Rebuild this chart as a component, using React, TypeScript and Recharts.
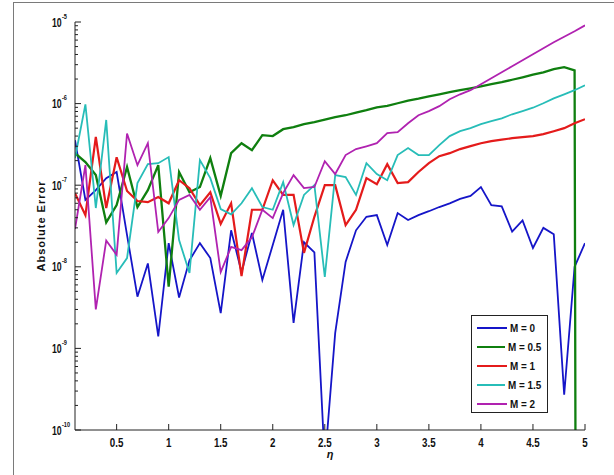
import { LineChart, Line, XAxis, YAxis, Legend } from 'recharts';

// eta grid
const eta = [
  0.1, 0.2, 0.3, 0.4, 0.5, 0.6, 0.7, 0.8, 0.9, 1.0,
  1.1, 1.2, 1.3, 1.4, 1.5, 1.6, 1.7, 1.8, 1.9, 2.0,
  2.1, 2.2, 2.3, 2.4, 2.5, 2.6, 2.7, 2.8, 2.9, 3.0,
  3.1, 3.2, 3.3, 3.4, 3.5, 3.6, 3.7, 3.8, 3.9, 4.0,
  4.1, 4.2, 4.3, 4.4, 4.5, 4.6, 4.7, 4.8, 4.9, 5.0,
];

const errM0 = [
  3.56e-7, 6.6e-8, 8.7e-8, 1.22e-7, 1.45e-7, 2.45e-8, 4.3e-9, 1.1e-8, 1.4e-9, 1.95e-8,
  4.2e-9, 1.2e-8, 1.95e-8, 1.28e-8, 2.7e-9, 2.8e-8, 8.6e-9, 2.6e-8, 6.9e-9, 1.85e-8,
  5.0e-8, 2.05e-9, 2.0e-8, 1.5e-8, 4e-11, 1.55e-9, 1.15e-8, 2.8e-8, 4.1e-8, 4.3e-8,
  1.85e-8, 4.55e-8, 3.75e-8, 4.3e-8, 4.8e-8, 5.4e-8, 6.0e-8, 6.8e-8, 7.4e-8, 9.5e-8,
  5.7e-8, 5.5e-8, 2.7e-8, 3.7e-8, 1.7e-8, 3.0e-8, 2.5e-8, 2.7e-10, 1.0e-8, 1.95e-8,
];

const errM05 = [
  2.47e-7, 1.92e-7, 1.33e-7, 3.5e-8, 5.7e-8, 1.67e-7, 5.4e-8, 8.7e-8, 1.76e-7, 5.7e-9,
  1.45e-7, 8.2e-8, 9.5e-8, 2.15e-7, 7.4e-8, 2.47e-7, 3.27e-7, 2.69e-7, 4.1e-7, 4.0e-7,
  4.86e-7, 5.14e-7, 5.6e-7, 5.92e-7, 6.35e-7, 6.82e-7, 7.2e-7, 7.74e-7, 8.3e-7, 9.0e-7,
  9.4e-7, 1.01e-6, 1.085e-6, 1.15e-6, 1.23e-6, 1.3e-6, 1.38e-6, 1.46e-6, 1.54e-6, 1.63e-6,
  1.73e-6, 1.83e-6, 1.96e-6, 2.1e-6, 2.26e-6, 2.42e-6, 2.64e-6, 2.79e-6, 2.56e-6, 1e-60,
];

const errM1 = [
  8.0e-8, 4.3e-8, 3.9e-7, 5.25e-8, 2.2e-7, 8.5e-8, 6.4e-8, 6.2e-8, 7.15e-8, 6.0e-8,
  1.15e-7, 9.2e-8, 5.7e-8, 8.2e-8, 3.35e-8, 6.0e-8, 7.7e-9, 5.0e-8, 5.0e-8, 1.15e-7,
  7.6e-8, 7.6e-8, 1.48e-8, 4.1e-8, 1.0e-7, 1.0e-7, 3.25e-8, 5.0e-8, 1.22e-7, 1.03e-7,
  1.81e-7, 1.06e-7, 1.09e-7, 1.45e-7, 1.86e-7, 2.27e-7, 2.47e-7, 2.77e-7, 3.01e-7, 3.27e-7,
  3.47e-7, 3.61e-7, 3.77e-7, 3.88e-7, 3.99e-7, 4.22e-7, 4.59e-7, 5.0e-7, 5.75e-7, 6.44e-7,
];

const errM15 = [
  2.15e-7, 9.8e-7, 5.25e-8, 6.3e-7, 8.4e-9, 1.28e-8, 1.06e-7, 1.81e-7, 1.86e-7, 2.21e-7,
  2.13e-8, 8.4e-9, 2.03e-7, 1.22e-7, 5.1e-8, 4.4e-8, 6.0e-8, 9.2e-8, 5.4e-8, 5.0e-8,
  1.09e-7, 3.25e-8, 7.6e-8, 1.0e-7, 7.5e-9, 1.33e-7, 1.26e-7, 7.6e-8, 1.86e-7, 1.37e-7,
  1.15e-7, 2.34e-7, 2.85e-7, 2.34e-7, 2.34e-7, 3.1e-7, 4.0e-7, 4.6e-7, 5.0e-7, 5.6e-7,
  6.1e-7, 6.6e-7, 7.4e-7, 8.1e-7, 8.9e-7, 1.01e-6, 1.16e-6, 1.3e-6, 1.46e-6, 1.68e-6,
];

const errM2 = [
  2.9e-8, 1.76e-7, 3.0e-9, 2.1e-8, 1.4e-8, 4.3e-7, 1.76e-7, 3.27e-7, 2.67e-8, 3.95e-8,
  6.6e-8, 7.6e-8, 5.0e-8, 7.15e-8, 8.6e-9, 1.75e-8, 1.6e-8, 2.3e-8, 5.0e-8, 3.95e-8,
  8.0e-8, 1.33e-7, 9.2e-8, 9.5e-8, 1.97e-7, 1.37e-7, 2.34e-7, 2.77e-7, 3.0e-7, 3.27e-7,
  4.34e-7, 4.47e-7, 5.75e-7, 7.2e-7, 8.1e-7, 9.3e-7, 1.13e-6, 1.3e-6, 1.46e-6, 1.73e-6,
  2.05e-6, 2.42e-6, 2.87e-6, 3.4e-6, 4.03e-6, 4.77e-6, 5.64e-6, 6.6e-6, 7.7e-6, 9.1e-6,
];

const xTicks = [0.5, 1, 1.5, 2, 2.5, 3, 3.5, 4, 4.5, 5];
const decades = [1e-10, 1e-9, 1e-8, 1e-7, 1e-6, 1e-5];
const decadeExp = ['-10', '-9', '-8', '-7', '-6', '-5'];
const minorMult = [2, 3, 4, 5, 6, 7, 8, 9];
const minorTicks = decades.slice(0, -1).flatMap((d) => minorMult.map((m) => m * d));
const yTicks = [...decades, ...minorTicks];

const series = [
  { key: 'm0', name: 'M = 0', color: '#1515c8', width: 1.8, values: errM0 },
  { key: 'm05', name: 'M = 0.5', color: '#0f7f0f', width: 2.3, values: errM05 },
  { key: 'm1', name: 'M = 1', color: '#e41b1b', width: 2.2, values: errM1 },
  { key: 'm15', name: 'M = 1.5', color: '#27bdb8', width: 1.8, values: errM15 },
  { key: 'm2', name: 'M = 2', color: '#b022b0', width: 1.8, values: errM2 },
];

const data = eta.map((x, i) => {
  const row: Record<string, number> = { x };
  series.forEach((s) => {
    row[s.key] = s.values[i];
  });
  return row;
});

const AXIS = '#222';
const FONT = '"Liberation Sans", Arial, sans-serif';

const decadeIndex = (v: number) => decades.findIndex((d) => Math.abs(v / d - 1) < 1e-6);

function BottomTick({ x, y, payload }: any) {
  return (
    <g>
      <line x1={x} x2={x} y1={y} y2={y - 6} stroke={AXIS} />
      <text
        transform={`translate(${x},${y + 17}) scale(0.75,1)`}
        textAnchor="middle"
        fontSize={13}
        fontWeight="bold"
        fontFamily={FONT}
        fill="#111"
      >
        {payload.value}
      </text>
    </g>
  );
}

function TopTick({ x, y }: any) {
  return <line x1={x} x2={x} y1={y} y2={y + 6} stroke={AXIS} />;
}

function LeftTick({ x, y, payload }: any) {
  const k = decadeIndex(payload.value);
  if (k < 0) return <line x1={x} x2={x + 3} y1={y} y2={y} stroke={AXIS} />;
  return (
    <g>
      <line x1={x} x2={x + 6} y1={y} y2={y} stroke={AXIS} />
      <text
        transform={`translate(${x - 23},${y + 4.5}) scale(0.7,1)`}
        fontSize={12.5}
        fontWeight="bold"
        fontFamily={FONT}
        fill="#111"
      >
        10
      </text>
      <text
        transform={`translate(${x - 13},${y - 3.5}) scale(0.8,1)`}
        fontSize={7}
        fontWeight="bold"
        fontFamily={FONT}
        fill="#111"
      >
        {decadeExp[k]}
      </text>
    </g>
  );
}

function RightTick({ x, y, payload }: any) {
  const len = decadeIndex(payload.value) < 0 ? 3 : 6;
  return <line x1={x} x2={x - len} y1={y} y2={y} stroke={AXIS} />;
}

function YLabel({ viewBox }: any) {
  return (
    <text
      transform={`translate(${viewBox.x + 45},${viewBox.y + viewBox.height / 2}) rotate(-90)`}
      textAnchor="middle"
      fontSize={11}
      fontWeight="bold"
      letterSpacing={1}
      fontFamily={FONT}
      fill="#111"
    >
      Absolute Error
    </text>
  );
}

function EtaLabel({ viewBox }: any) {
  return (
    <text
      x={viewBox.x + viewBox.width / 2}
      y={viewBox.y + 28}
      textAnchor="middle"
      fontSize={11}
      fontStyle="italic"
      fontWeight="bold"
      fontFamily={FONT}
      fill="#111"
    >
      η
    </text>
  );
}

function LegendBox() {
  return (
    <div
      style={{
        width: 77,
        height: 98,
        boxSizing: 'border-box',
        border: '1px solid #222',
        background: '#fff',
        paddingTop: 2,
        fontFamily: FONT,
      }}
    >
      {series.map((s) => (
        <div key={s.key} style={{ height: 19, display: 'flex', alignItems: 'center' }}>
          <svg width={30} height={4} style={{ marginLeft: 5 }}>
            <line x1={0} x2={30} y1={2} y2={2} stroke={s.color} strokeWidth={2} />
          </svg>
          <span
            style={{
              marginLeft: 3,
              fontSize: 11.5,
              fontWeight: 'bold',
              color: '#111',
              display: 'inline-block',
              transform: 'scaleX(0.86)',
              transformOrigin: 'left center',
              whiteSpace: 'nowrap',
            }}
          >
            {s.name}
          </span>
        </div>
      ))}
    </div>
  );
}

export default function App() {
  return (
    <div
      style={{
        position: 'absolute',
        left: 0,
        top: 0,
        width: 614,
        height: 475,
        background: '#fff',
        overflow: 'hidden',
      }}
    >
      <div
        style={{
          position: 'absolute',
          left: 13,
          top: 2,
          width: 700,
          height: 600,
          borderLeft: '1px solid #7a7a7a',
          borderTop: '1px solid #7a7a7a',
        }}
      />
      <div style={{ position: 'absolute', left: 0, top: 0 }}>
        <LineChart width={614} height={475} data={data} margin={{ top: 22, right: 29, bottom: 15, left: 0 }}>
          <XAxis
            xAxisId="bottom"
            dataKey="x"
            type="number"
            domain={[0.1, 5]}
            allowDataOverflow
            ticks={xTicks}
            interval={0}
            tickSize={0}
            tickMargin={0}
            tickLine={false}
            tick={BottomTick}
            height={30}
            axisLine={{ stroke: AXIS }}
            label={EtaLabel}
          />
          <XAxis
            xAxisId="top"
            orientation="top"
            dataKey="x"
            type="number"
            domain={[0.1, 5]}
            allowDataOverflow
            ticks={xTicks}
            interval={0}
            tickSize={0}
            tickMargin={0}
            tickLine={false}
            tick={TopTick}
            height={0}
            axisLine={{ stroke: AXIS }}
          />
          <YAxis
            yAxisId="left"
            type="number"
            scale="log"
            domain={[1e-10, 1e-5]}
            allowDataOverflow
            ticks={yTicks}
            interval={0}
            tickSize={0}
            tickMargin={0}
            tickLine={false}
            tick={LeftTick}
            width={75}
            axisLine={{ stroke: AXIS }}
            label={YLabel}
          />
          <YAxis
            yAxisId="right"
            orientation="right"
            type="number"
            scale="log"
            domain={[1e-10, 1e-5]}
            allowDataOverflow
            ticks={yTicks}
            interval={0}
            tickSize={0}
            tickMargin={0}
            tickLine={false}
            tick={RightTick}
            width={0}
            axisLine={{ stroke: AXIS }}
          />
          <Legend
            layout="vertical"
            align="center"
            verticalAlign="middle"
            content={LegendBox}
            wrapperStyle={{ left: 471, top: 315, width: 77, height: 98 }}
          />
          {series.map((s) => (
            <Line
              key={s.key}
              xAxisId="bottom"
              yAxisId="left"
              type="linear"
              dataKey={s.key}
              name={s.name}
              stroke={s.color}
              strokeWidth={s.width}
              dot={false}
              activeDot={false}
              isAnimationActive={false}
            />
          ))}
        </LineChart>
      </div>
    </div>
  );
}
